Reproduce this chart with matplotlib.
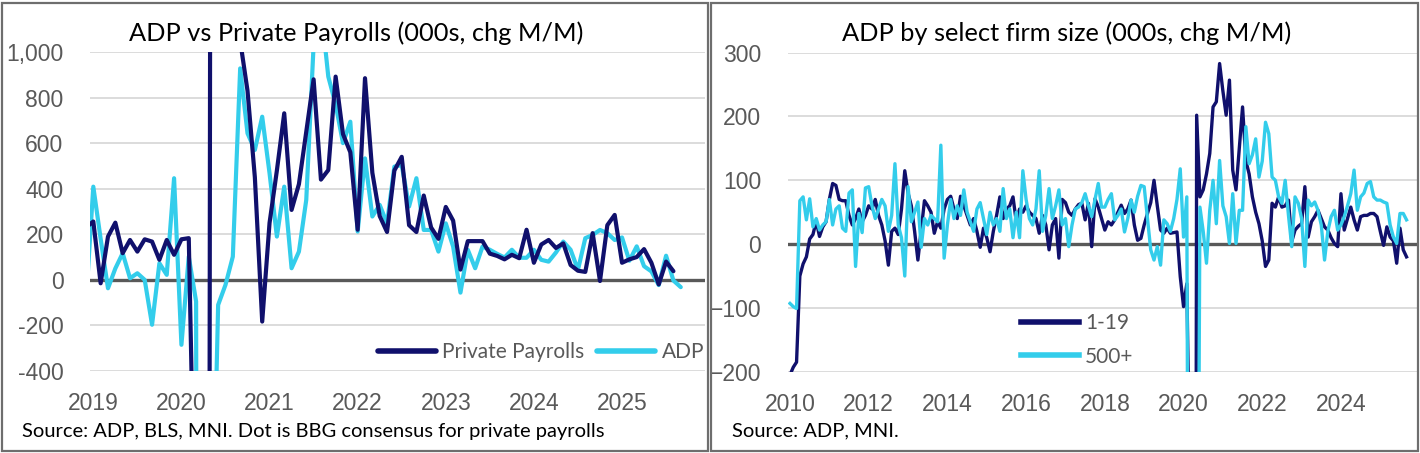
import matplotlib
matplotlib.use("Agg")
import numpy as np
import matplotlib.pyplot as plt
from matplotlib.patches import Rectangle
from matplotlib.ticker import FuncFormatter

#----------
# Left panel data, 000s chg M/M, Dec 2018 .. Sep 2025
private_payrolls = [230,
    256, -15, 190, 251, 117, 175, 124, 178, 168, 88, 175, 110,            # 2019
    178, 183, -1400, -19800, 3300, 4500, 1300, 1100, 1050, 830, 450, -183, # 2020
    250, 480, 731, 307, 420, 650, 880, 440, 482, 892, 640, 560,          # 2021
    220, 885, 470, 280, 210, 480, 540, 240, 210, 370, 230, 180,          # 2022
    320, 260, 45, 170, 170, 170, 115, 105, 90, 110, 95, 220,             # 2023
    75, 155, 175, 140, 160, 65, 40, 35, 205, -5, 240, 285,               # 2024
    75, 90, 100, 135, 75, -20, 80, 38]                                   # 2025
adp_total = [-100,
    409, 180, -37, 50, 117, 7, 29, 0, -197, 73, 22, 446,                  # 2019
    -285, 102, -95, -19500, -1500, -110, -22, 102, 928, 643, 570, 716,    # 2020
    468, 190, 409, 51, 124, 351, 1030, 1200, 892, 770, 600, 694,          # 2021
    212, 533, 278, 329, 248, 497, 504, 322, 446, 219, 219, 124,           # 2022
    248, 146, -56, 132, 51, 146, 132, 114, 98, 132, 97, 97,               # 2023
    132, 88, 80, 120, 168, 132, 44, 183, 197, 219, 205, 175,              # 2024
    186, 84, 147, 60, 37, -23, 106, -3, -32]                              # 2025
left_years = [2019, 2020, 2021, 2022, 2023, 2024, 2025]

# Right panel data, 000s chg M/M, Jan 2010 .. Sep 2025
firm_1_19 = [
    -205, -193, -185, -50, -31, -20, 8, 15, 36, 12, 27, 35,      # 2010
    70, 95, 92, 70, 68, 68, 45, 30, 40, 55, 35, 45,              # 2011
    60, 55, 70, 45, 30, 5, -33, 20, 25, 15, 55, 115,             # 2012
    80, 60, 20, -25, 22, 68, 60, 50, 17, 35, 25, 55,             # 2013
    70, 75, 55, 40, 75, 60, 45, 30, 40, 20, -5, 25,              # 2014
    10, -12, 20, 45, 74, 40, 55, 60, 74, 35, 55, 50,             # 2015
    60, 50, 45, 40, 17, 45, 30, -9, 30, 40, -22, 70,             # 2016
    65, 50, 45, 55, 62, 64, 38, 64, -4, 71, 58, 40,              # 2017
    22, 35, 30, 38, 50, 61, 48, 55, 69, 30, 6, 9,                # 2018
    30, 48, 65, 100, 60, 22, 17, 25, 17, 18, 19, -51,            # 2019
    -98, -62, -400, -3000, 202, 74, 85, 110, 142, 215, 223, 283, # 2020
    240, 202, 257, 116, 85, 150, 215, 131, 110, 74, 50, 32,      # 2021
    5, -35, -25, 64, 58, 74, 58, 60, 69, 4, 22, 28,              # 2022
    32, 90, 11, 35, 43, 53, 40, 27, 22, 10, 1, -4,               # 2023
    79, 22, 40, 58, 38, 22, 43, 45, 45, 48, 48, 43,              # 2024
    20, -2, 27, 11, 5, -30, 25, -9, -20]                         # 2025
firm_500_plus = [
    -93, -98, -101, 68, 74, 38, 71, 27, 40, 22, 30, 35,          # 2010
    70, 30, 55, 60, 25, 20, 80, 85, -35, 48, 18, 88,             # 2011
    90, 60, 40, 55, 70, 60, 20, 45, 126, 30, 10, -50,            # 2012
    90, 35, 50, 66, -5, 40, 30, 45, 40, 35, 155, -22,            # 2013
    30, 70, 40, 60, 45, 85, 50, 35, 20, 55, 65, 40,              # 2014
    15, 50, 30, 40, 20, 87, 40, 55, 10, 50, 10, 115,             # 2015
    70, 40, 30, 55, 115, 20, 45, 87, 40, 60, 85, 30,             # 2016
    40, -4, 30, 55, 58, 65, 79, 60, 43, 70, 95, 58,              # 2017
    58, 70, 79, 38, 45, 55, 19, 40, 69, 50, 75, 92,              # 2018
    90, 40, -9, -25, -4, -33, 38, 32, 20, 40, 70, 118,           # 2019
    11, 74, -1500, -9000, -1000, 58, 20, -30, 53, 100, 32, 131,  # 2020
    60, 43, 1, 79, 1, 53, 53, 184, 126, 140, 165, 105,           # 2021
    130, 191, 173, 105, 100, 74, 64, 100, 45, -4, 74, 64,        # 2022
    40, -35, 69, 60, 66, 53, 30, -25, 20, 43, 53, 22,            # 2023
    30, 43, 60, 79, 116, 53, 74, 80, 95, 98, 74, 69,             # 2024
    69, 66, 64, 30, 11, 1, 48, 48, 38]                           # 2025
right_years = [2010, 2012, 2014, 2016, 2018, 2020, 2022, 2024]
#----------

navy = '#10106c'
cyan = '#33cdeb'
grey_txt = '#595959'
W, H = 1420, 453

plt.rcParams['font.family'] = ['Lato', 'DejaVu Sans']
tick_font = 'Liberation Sans'

fig = plt.figure(figsize=(W / 100, H / 100), dpi=100)

def px_box(x0, y0, x1, y1):
    # pixel box (top-left origin) -> figure fraction rect
    return [x0 / W, 1 - y1 / H, (x1 - x0) / W, (y1 - y0) / H]

def style_axis(ax):
    for s in ax.spines.values():
        s.set_visible(False)
    ax.yaxis.grid(True, color='#d9d9d9', lw=1.3)
    ax.set_axisbelow(True)
    ax.axhline(0, color=grey_txt, lw=2.4, zorder=1.5)
    ax.tick_params(length=0, labelsize=16.5, labelcolor=grey_txt)
    ax.tick_params(axis='y', pad=19)
    ax.tick_params(axis='x', pad=15)
    for lab in ax.get_xticklabels() + ax.get_yticklabels():
        lab.set_fontfamily(tick_font)

# panel borders
for x0, x1 in [(2, 708), (711, 1418)]:
    fig.add_artist(Rectangle((x0 / W, 1 - 451 / H), (x1 - x0) / W, 448 / H,
                             transform=fig.transFigure, fill=False,
                             ec='#6e6e6e', lw=1.6))

# ---- left panel
ax1 = fig.add_axes(px_box(90, 52, 705, 371))
x_left = np.arange(len(adp_total)) - 1
ax1.plot(x_left[:len(private_payrolls)], private_payrolls, color=navy, lw=3.0,
         label='Private Payrolls', solid_capstyle='round', zorder=3)
ax1.plot(x_left, adp_total, color=cyan, lw=3.0, label='ADP',
         solid_capstyle='round', zorder=2)
ax1.set_ylim(-400, 1000)
ax1.set_yticks(range(-400, 1001, 200))
ax1.yaxis.set_major_formatter(FuncFormatter(lambda v, p: f'{v:,.0f}'))
ax1.set_xlim(-0.45, 83.3)
ax1.set_xticks([(y - 2019) * 12 for y in left_years])
ax1.set_xticklabels([str(y) for y in left_years])
style_axis(ax1)
leg1 = ax1.legend(ncol=2, frameon=False, loc='center',
                  bbox_to_anchor=(0.733, 0.06), fontsize=15,
                  handlelength=2.8, handletextpad=0.3, columnspacing=0.6)
for t in leg1.get_texts():
    t.set_color(grey_txt)
for h in leg1.get_lines():
    h.set_linewidth(4)

fig.text(356 / W, 1 - 33 / H, 'ADP vs Private Payrolls (000s, chg M/M)',
         ha='center', va='center', fontsize=18.3, color='black')
fig.text(22 / W, 1 - 431 / H,
         'Source: ADP, BLS, MNI. Dot is BBG consensus for private payrolls',
         ha='left', va='center', fontsize=14.5, color='black')

# ---- right panel
ax2 = fig.add_axes(px_box(787.7, 52.7, 1416.7, 371.7))
x_right = np.arange(len(firm_1_19))
ax2.plot(x_right, firm_1_19, color=navy, lw=2.4, label='1-19', zorder=2)
ax2.plot(x_right, firm_500_plus, color=cyan, lw=2.4, label='500+', zorder=3)
ax2.set_ylim(-200, 300)
ax2.set_yticks(range(-200, 301, 100))
ax2.set_xlim(-0.7, 191.1)
ax2.set_xticks([(y - 2010) * 12 for y in right_years])
ax2.set_xticklabels([str(y) for y in right_years])
style_axis(ax2)
leg2 = ax2.legend(ncol=1, frameon=False, loc='center',
                  bbox_to_anchor=(0.46, 0.1), fontsize=15,
                  handlelength=2.8, handletextpad=0.3, labelspacing=0.65)
for t in leg2.get_texts():
    t.set_color(grey_txt)
for h in leg2.get_lines():
    h.set_linewidth(4)

fig.text(1066.5 / W, 1 - 33 / H, 'ADP by select firm size (000s, chg M/M)',
         ha='center', va='center', fontsize=18.3, color='black')
fig.text(732 / W, 1 - 431 / H, 'Source: ADP, MNI.',
         ha='left', va='center', fontsize=14.5, color='black')

fig.savefig('out.png', dpi=100, facecolor='white')
